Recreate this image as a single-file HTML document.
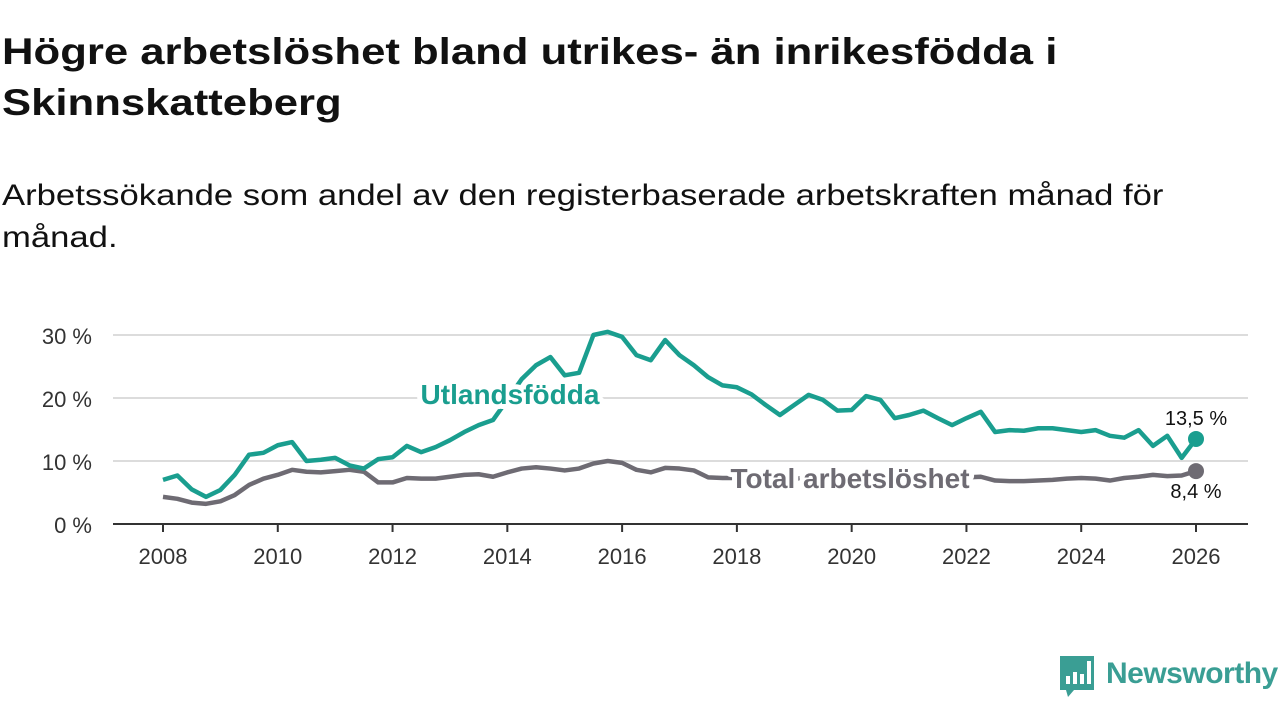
<!DOCTYPE html>
<html><head><meta charset="utf-8"><style>
body{margin:0;width:1280px;height:720px;background:#fff;font-family:"Liberation Sans",sans-serif;overflow:hidden;position:relative}
h1{position:absolute;left:2px;top:26px;margin:0;font-size:37px;line-height:51px;font-weight:bold;color:#111;white-space:nowrap;transform:scaleX(1.18);transform-origin:0 0}
.sub{position:absolute;left:2px;top:175px;margin:0;font-size:30px;line-height:42px;color:#111;white-space:nowrap;transform:scaleX(1.155);transform-origin:0 0}
svg{position:absolute;left:0;top:0}
</style></head><body>
<h1>Högre arbetslöshet bland utrikes- än inrikesfödda i<br>Skinnskatteberg</h1>
<p class="sub">Arbetssökande som andel av den registerbaserade arbetskraften månad för<br>månad.</p>
<svg id="chart" width="1280" height="720"></svg>
<script>
const yTicks=[0,10,20,30];
const yTickLabels=["0 %","10 %","20 %","30 %"];
const xTicks=[2008,2010,2012,2014,2016,2018,2020,2022,2024,2026];
const foreign=[7,7.7,5.5,4.3,5.4,7.8,11,11.3,12.5,13,10,10.2,10.5,9.3,8.8,10.3,10.6,12.4,11.4,12.2,13.3,14.6,15.7,16.5,19.7,23,25.2,26.5,23.6,24,30,30.5,29.7,26.8,26,29.2,26.8,25.2,23.3,22,21.7,20.6,18.9,17.3,18.9,20.5,19.7,18,18.1,20.3,19.7,16.8,17.3,18,16.8,15.7,16.8,17.8,14.6,14.9,14.8,15.2,15.2,14.9,14.6,14.9,14,13.7,14.9,12.4,14,10.5,13.5];
const total=[4.3,4.0,3.4,3.2,3.6,4.6,6.2,7.2,7.8,8.6,8.3,8.2,8.4,8.6,8.3,6.6,6.6,7.3,7.2,7.2,7.5,7.8,7.9,7.5,8.2,8.8,9.0,8.8,8.5,8.8,9.6,10.0,9.7,8.6,8.2,8.9,8.8,8.5,7.4,7.3,7.3,7.2,7.0,7.1,7.2,7.3,7.5,7.4,7.3,7.2,7.3,7.4,7.5,7.4,7.3,7.3,7.4,7.5,6.9,6.8,6.8,6.9,7.0,7.2,7.3,7.2,6.9,7.3,7.5,7.8,7.6,7.7,8.4];
const NS="http://www.w3.org/2000/svg";
const svg=document.getElementById('chart');
const X0=113,X1=1248;
const x=t=>163+(t-2008)*(1196-163)/18;
const y=v=>524-v*6.3;
const tOf=i=>2008+i*0.25;
function mk(tag,attrs,parent){const e=document.createElementNS(NS,tag);for(const k in attrs)e.setAttribute(k,attrs[k]);(parent||svg).appendChild(e);return e;}
yTicks.forEach((v,i)=>{
  if(v>0){const g=mk('line',{x1:X0,x2:X1,y1:y(v),y2:y(v),stroke:'#dcdcdc','stroke-width':2});
  
  }
  const t=mk('text',{x:92,y:y(v)+9,'text-anchor':'end','font-size':22,fill:'#333'});t.textContent=yTickLabels[i];
  
  
});
const ax=mk('line',{x1:X0,x2:X1,y1:524,y2:524,stroke:'#333','stroke-width':2});


xTicks.forEach(t=>{
  const l=mk('line',{x1:x(t),x2:x(t),y1:524,y2:532,stroke:'#333','stroke-width':2});
  
  
  const tx=mk('text',{x:x(t),y:564,'text-anchor':'middle','font-size':22,fill:'#333'});tx.textContent=t;
  
  
});
function line(arr,color,name){
  const p=mk('polyline',{points:arr.map((v,i)=>x(tOf(i))+','+y(v)).join(' '),fill:'none',stroke:color,'stroke-width':4.5,'stroke-linejoin':'round'});
  
  
  const n=arr.length-1;
  const c=mk('circle',{cx:x(tOf(n)),cy:y(arr[n]),r:8,fill:color});
  
  
}
line(total,'#6e6b73','total-line');
line(foreign,'#1a9e8f','foreign-line');
function label(txt,cx,cy,color,size,name,bold){
  const t=mk('text',{x:cx,y:cy,'text-anchor':'middle','font-size':size,fill:color,'font-weight':bold?'bold':'normal',stroke:'#fff','stroke-width':bold?10:6,'paint-order':'stroke','stroke-linejoin':'round'});
  t.textContent=txt;
  
  
}
label('Utlandsfödda',510,404,'#1a9e8f',28,'foreign-series-label',true);
label('Total arbetslöshet',850,488,'#6e6b73',28,'total-series-label',true);
label('13,5 %',1196,425,'#111',20,'foreign-end-value');
label('8,4 %',1196,498,'#111',20,'total-end-value');
const lg=mk('g',{});


mk('path',{d:'M1060 656 h34 v34 h-20 l-6 7 l-2 -7 h-6 z',fill:'#3a9e94'},lg);
mk('rect',{x:1066,y:676,width:4,height:8,fill:'#fff'},lg);
mk('rect',{x:1073,y:672,width:4,height:12,fill:'#fff'},lg);
mk('rect',{x:1080,y:674,width:4,height:10,fill:'#fff'},lg);
mk('rect',{x:1087,y:661,width:4,height:23,fill:'#fff'},lg);
const lt=mk('text',{x:1106,y:683,'font-size':30,fill:'#3a9e94','font-weight':'bold','letter-spacing':'-0.5'},lg);lt.textContent='Newsworthy';
</script>
</body></html>
